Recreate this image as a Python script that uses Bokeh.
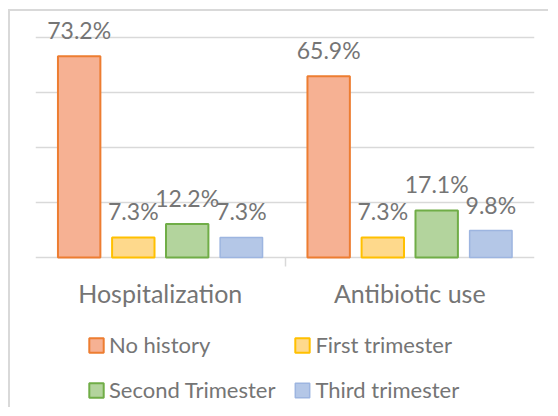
from bokeh.plotting import figure
from bokeh.models import ColumnDataSource, Range1d, FixedTicker, Legend, LegendItem
from bokeh.embed import file_html
from bokeh.resources import INLINE
from bokeh.core.properties import value

# ---- data ----
categories = ["Hospitalization", "Antibiotic use"]
series_names = ["No history", "First trimester", "Second Trimester", "Third trimester"]
no_history = [73.2, 65.9]
first_trimester = [7.3, 7.3]
second_trimester = [12.2, 17.1]
third_trimester = [7.3, 9.8]
series_values = [no_history, first_trimester, second_trimester, third_trimester]
grid_ticks = [0, 20, 40, 60, 80]

# ---- styles ----
fills = ["#f6b193", "#fed98c", "#b3d49d", "#b4c7e7"]
lines = ["#ed7d31", "#ffc000", "#70ad47", "#9db5e0"]
line_widths = [2, 2, 2, 1.5]
offsets = [-0.325, -0.108, 0.108, 0.325]
bar_width = 0.17
text_color = "#757575"
grid_color = "#d9d9d9"
FONT = "Lato"

p = figure(width=540, height=398, output_backend="svg", toolbar_location=None,
           x_range=Range1d(0, len(categories)), y_range=Range1d(-55.3, 88),
           x_axis_location=None, y_axis_location=None,
           min_border_left=25, min_border_right=16, min_border_top=4, min_border_bottom=0)
p.styles = {"margin-left": "8px", "margin-top": "9px",
            "border-left": "2px solid #d9d9d9", "border-top": "2px solid #d9d9d9"}
p.outline_line_color = None
p.background_fill_color = None
p.ygrid.ticker = FixedTicker(ticks=grid_ticks)
p.ygrid.grid_line_color = grid_color
p.ygrid.grid_line_width = 1.5
# category separators: short tick marks below the baseline
p.xgrid.ticker = FixedTicker(ticks=[float(i) for i in range(len(categories) + 1)])
p.xgrid.cross_bounds = (-3.3, 0)
p.xgrid.grid_line_color = grid_color
p.xgrid.grid_line_width = 1.5

centers = [i + 0.5 for i in range(len(categories))]
items = []
for name, vals, off, fc, lc, lw in zip(series_names, series_values, offsets, fills, lines, line_widths):
    src = ColumnDataSource(dict(x=[c + off for c in centers], top=vals,
                                label=["%.1f%%" % v for v in vals]))
    r = p.vbar(x="x", top="top", bottom=0, width=bar_width, source=src,
               fill_color=fc, line_color=lc, line_width=lw)
    p.text(x="x", y="top", text="label", source=src, text_align="center",
           text_baseline="alphabetic", y_offset=-26, text_color=text_color,
           text_font=value(FONT), text_font_size="23px")
    items.append(LegendItem(label=name, renderers=[r]))

cat_src = ColumnDataSource(dict(x=centers, y=[0] * len(centers), text=categories))
p.text(x="x", y="y", text="text", source=cat_src, text_align="center",
       text_baseline="alphabetic", y_offset=36, text_color=text_color,
       text_font=value(FONT), text_font_size="25px")

legend = Legend(items=items, ncols=2, orientation="horizontal", location=(52, 6),
                glyph_width=18, glyph_height=18, label_standoff=4,
                label_text_font=FONT, label_text_font_size="22px",
                label_text_color=text_color, spacing=18, padding=0, margin=0,
                border_line_color=None, background_fill_color=None)
p.add_layout(legend, "center")

open("out.html", "w").write(file_html(p, INLINE))
